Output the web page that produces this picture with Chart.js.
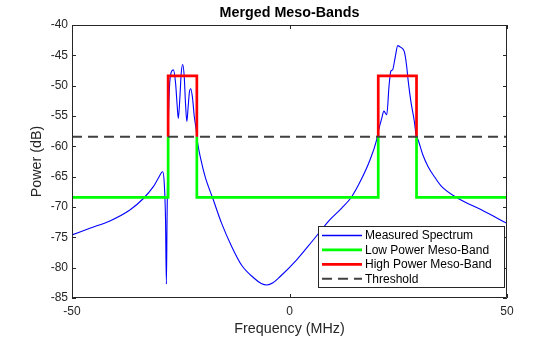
<!DOCTYPE html>
<html>
<head>
<meta charset="utf-8">
<script src="https://cdn.jsdelivr.net/npm/chart.js@4.4.0/dist/chart.umd.min.js"></script>
<style>
  html, body { margin: 0; padding: 0; background: #fff; }
</style>
</head>
<body>
<canvas id="c" width="560" height="337"></canvas>
<script>
// measured spectrum
const freqMHz = [
  -50, -45.9, -41.3, -36.7, -33.6, -31.3, -30.2, -29.15, -28.8, -28.5, -28.3,
  -28.15, -27.9, -27.6, -27.2, -26.7, -26.2, -25.8, -25.56, -25.2, -24.9, -24.55,
  -24.2, -23.9, -23.6, -23.3, -23.0, -22.7, -22.3, -21.9, -21.5, -21.1, -20.3,
  -19.4, -17.5, -15.6, -13.3, -11.0, -8.2, -6.5, -5.2, -3.8, -2.2, 1.65, 5.5,
  9.3, 12.0, 14.3, 16.4, 18.5, 20.0, 20.4, 21.2, 21.7, 22.35, 22.9, 23.3, 23.7,
  24.25, 24.9, 25.6, 26.4, 26.9, 27.3, 27.9, 28.7, 29.1, 29.6, 30.6, 31.9, 33.4,
  35.0, 38.8, 44.2, 50
]
const powerDb = [
  -74.6, -73.5, -72.3, -70.5, -68.6, -66.65, -65.3, -64.2, -66.0, -72.0, -82.7,
  -72.0, -58.0, -50.4, -47.8, -47.4, -49.5, -53.5, -55.4, -52.0, -48.0, -46.5,
  -48.5, -53.0, -55.9, -53.5, -51.0, -50.5, -52.0, -55.0, -57.0, -59.5, -62.4,
  -65.0, -68.85, -72.7, -76.5, -79.6, -81.7, -82.6, -82.85, -82.5, -81.5, -78.7, -75.4,
  -72.1, -70.2, -68.3, -65.6, -62.25, -59.0, -57.6, -55.4, -54.2, -54.8, -49.9, -47.6, -47.4,
  -45.5, -43.4, -43.7, -44.4, -46.6, -49.3, -52.6, -55.9, -58.1, -59.0, -61.3, -63.4, -65.1,
  -66.65, -68.6, -70.5, -72.7
]

// meso-band edges (MHz) and levels (dB)
const bandEdges = [[-27.9, -21.3], [20.4, 29.2]]
const threshold = -58.4
const lowLevel = -68.4
const highLevel = -48.4

const xRange = [-50, 50]
const yRange = [-85, -40]
const xTicks = [-50, 0, 50]
const yTicks = [-85, -80, -75, -70, -65, -60, -55, -50, -45, -40]

const FONT = "'Liberation Sans', Arial, Helvetica, sans-serif"
const INK = '#262626'

const spectrum = freqMHz.map((f, i) => ({ x: f, y: powerDb[i] }))

// green: low level outside the bands, stepping up to the threshold at each edge
const lowBand = []
lowBand.push({ x: xRange[0], y: lowLevel })
bandEdges.forEach(([a, b]) => {
  lowBand.push({ x: a, y: lowLevel }, { x: a, y: threshold }, { x: a, y: null })
  lowBand.push({ x: b, y: threshold }, { x: b, y: lowLevel })
})
lowBand.push({ x: xRange[1], y: lowLevel })

// red: from the threshold up to the high level across each band
const highBand = []
bandEdges.forEach(([a, b], i) => {
  if (i > 0) highBand.push({ x: a, y: null })
  highBand.push({ x: a, y: threshold }, { x: a, y: highLevel }, { x: b, y: highLevel }, { x: b, y: threshold })
})

const thresholdLine = [{ x: xRange[0], y: threshold }, { x: xRange[1], y: threshold }]

// box, inward ticks, titles and legend
const axesPlugin = {
  id: 'axesBox',
  afterDatasetsDraw(chart) {
    const { ctx, chartArea: a, scales } = chart
    ctx.save()
    ctx.strokeStyle = INK
    ctx.lineWidth = 1
    ctx.beginPath()
    ctx.rect(a.left + 0.5, a.top + 0.5, a.right - a.left - 1, a.bottom - a.top - 1)
    ctx.stroke()
    const tl = 4
    ctx.beginPath()
    xTicks.forEach(v => {
      const px = Math.round(scales.x.getPixelForValue(v)) + 0.5
      ctx.moveTo(px, a.bottom); ctx.lineTo(px, a.bottom - tl)
      ctx.moveTo(px, a.top); ctx.lineTo(px, a.top + tl)
    })
    yTicks.forEach(v => {
      const py = Math.round(scales.y.getPixelForValue(v)) + 0.5
      ctx.moveTo(a.left, py); ctx.lineTo(a.left + tl, py)
      ctx.moveTo(a.right, py); ctx.lineTo(a.right - tl, py)
    })
    ctx.stroke()

    // titles
    ctx.fillStyle = '#000'
    ctx.textAlign = 'center'
    ctx.textBaseline = 'middle'
    ctx.font = 'bold 14.3px ' + FONT
    ctx.fillText('Merged Meso-Bands', (a.left + a.right) / 2, 13)
    ctx.fillStyle = INK
    ctx.font = '14.3px ' + FONT
    ctx.fillText('Frequency (MHz)', (a.left + a.right) / 2, 329)
    ctx.save()
    ctx.translate(37, (a.top + a.bottom) / 2)
    ctx.rotate(-Math.PI / 2)
    ctx.fillText('Power (dB)', 0, 0)
    ctx.restore()

    // legend
    const lx = 318, ly = 226, lw = 186, lh = 61
    ctx.fillStyle = '#fff'
    ctx.fillRect(lx, ly, lw, lh)
    ctx.strokeStyle = INK
    ctx.strokeRect(lx + 0.5, ly + 0.5, lw, lh)
    ctx.font = '12px ' + FONT
    ctx.textAlign = 'left'
    chart.data.datasets.forEach((ds, i) => {
      const y = ly + 9.5 + i * 14.4
      ctx.beginPath()
      ctx.strokeStyle = ds.borderColor
      ctx.lineWidth = Math.max(ds.borderWidth, 1.5)
      ctx.setLineDash(ds.borderDash || [])
      ctx.moveTo(lx + 4, y); ctx.lineTo(lx + 44, y)
      ctx.stroke()
      ctx.setLineDash([])
      ctx.fillStyle = '#000'
      ctx.fillText(ds.label, lx + 47, y + 0.5)
    })
    ctx.restore()
  }
}

new Chart(document.getElementById('c'), {
  type: 'line',
  data: {
    datasets: [
      { label: 'Measured Spectrum', data: spectrum, borderColor: '#0000ff', borderWidth: 1.1,
        cubicInterpolationMode: 'monotone', order: 4 },
      { label: 'Low Power Meso-Band', data: lowBand, borderColor: '#00ff00', borderWidth: 2.7, order: 3 },
      { label: 'High Power Meso-Band', data: highBand, borderColor: '#ff0000', borderWidth: 2.7, order: 2 },
      { label: 'Threshold', data: thresholdLine, borderColor: '#404040', borderWidth: 2, borderDash: [10, 6], order: 1 }
    ]
  },
  options: {
    responsive: false,
    animation: false,
    devicePixelRatio: 1,
    spanGaps: false,
    elements: { point: { radius: 0 }, line: { tension: 0 } },
    layout: { padding: { left: 0, top: 25, right: 53, bottom: 0 } },
    plugins: { legend: { display: false }, tooltip: { enabled: false } },
    scales: {
      x: {
        type: 'linear', min: xRange[0], max: xRange[1],
        afterFit: s => { s.height = 39 },
        afterBuildTicks: s => { s.ticks = xTicks.map(v => ({ value: v })) },
        grid: { display: false, drawTicks: false },
        border: { display: false },
        ticks: { color: INK, font: { family: FONT, size: 12 }, padding: 6, maxRotation: 0 }
      },
      y: {
        type: 'linear', min: yRange[0], max: yRange[1],
        afterFit: s => { s.width = 72 },
        afterBuildTicks: s => { s.ticks = yTicks.map(v => ({ value: v })) },
        grid: { display: false, drawTicks: false },
        border: { display: false },
        ticks: { color: INK, font: { family: FONT, size: 12 }, padding: 4 }
      }
    }
  },
  plugins: [axesPlugin]
})
</script>
</body>
</html>
